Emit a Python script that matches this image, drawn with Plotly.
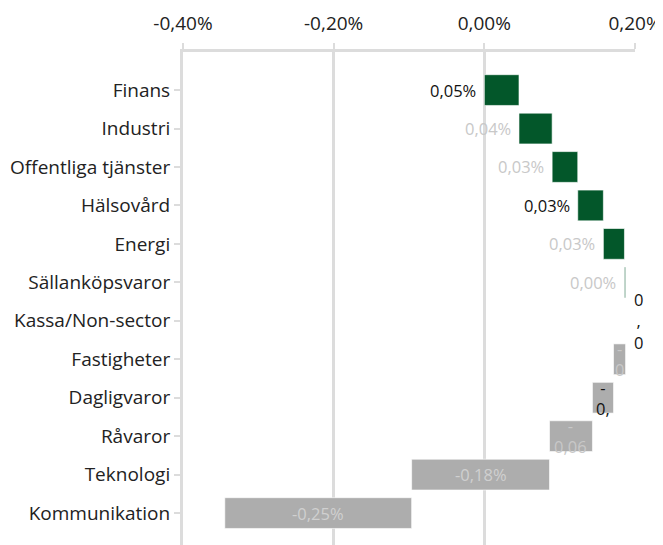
import plotly.graph_objects as go
import numpy as np

categories = ["Finans", "Industri", "Offentliga tjänster", "Hälsovård", "Energi",
              "Sällanköpsvaror", "Kassa/Non-sector", "Fastigheter", "Dagligvaror",
              "Råvaror", "Teknologi", "Kommunikation"]
values = [0.046, 0.044, 0.034, 0.034, 0.028, 0.0015, 0.0, -0.016, -0.028, -0.057, -0.183, -0.248]
labels = ["0,05%", "0,04%", "0,03%", "0,03%", "0,03%", "0,00%", "0<br>,<br>0",
          "-<br>0", "-<br>0,", "-<br>0,06", "-0,18%", "-0,25%"]
label_colors = ["#111111", "#c8c8c8", "#c8c8c8", "#111111", "#c8c8c8", "#c8c8c8", "#111111",
                "#c8c8c8", "#111111", "#c8c8c8", "#d0d0d0", "#d0d0d0"]
x_ticks = [-0.4, -0.2, 0.0, 0.2]
x_ticktext = ["-0,40%", "-0,20%", "0,00%", "0,20%"]

GREEN = "#03572a"
GREY = "#adadad"
FONT = "Open Sans"
LBL = 16.5

vals = np.array(values)
ends = np.cumsum(vals)
bases = ends - vals

fig = go.Figure()
fig.add_trace(go.Bar(
    y=categories, x=values, base=bases, orientation="h",
    marker=dict(color=[GREEN if v >= 0 else GREY for v in values],
                line=dict(color="rgba(255,255,255,0.6)", width=1)),
    width=0.8, hoverinfo="skip", showlegend=False,
))

for i, (c, v, b, e, t, col) in enumerate(zip(categories, values, bases, ends, labels, label_colors)):
    if v > 0:
        fig.add_annotation(x=b, y=c, text=t, xanchor="right", xshift=-6, showarrow=False,
                           font=dict(color=col, size=LBL, family=FONT))
    elif v == 0:
        fig.add_annotation(x=e, y=c, text=t, xanchor="left", xshift=6, showarrow=False,
                           font=dict(color=col, size=LBL, family=FONT))
    else:
        fig.add_annotation(x=b + v / 2, y=c, text=t, xanchor="center", showarrow=False,
                           font=dict(color=col, size=LBL, family=FONT))

# page body has an 8px default margin; compensate so the figure fills the 663x545 window
fig.update_layout(
    width=655, height=537,
    margin=dict(l=175, r=28, t=44, b=0),
    plot_bgcolor="white", paper_bgcolor="white",
    font=dict(family=FONT, size=18, color="#222222"),
    bargap=0.2,
)
fig.update_xaxes(
    side="top", range=[-0.4, 0.2], tickvals=x_ticks, ticktext=x_ticktext,
    showgrid=True, gridcolor="#dcdcdc", gridwidth=3, zeroline=False,
    showline=True, linecolor="#dcdcdc", linewidth=3,
    ticks="outside", ticklen=6, tickwidth=2, tickcolor="#dcdcdc",
    ticklabelstandoff=5, tickfont=dict(size=19, color="#222222"),
)
fig.update_yaxes(
    categoryorder="array", categoryarray=categories,
    range=[11.83, -0.99], showgrid=False, zeroline=False,
    showline=True, linecolor="#dcdcdc", linewidth=3,
    ticks="outside", ticklen=6, tickwidth=2, tickcolor="#dcdcdc",
    tickfont=dict(size=19, color="#222222"),
)
fig.write_html("out.html")
